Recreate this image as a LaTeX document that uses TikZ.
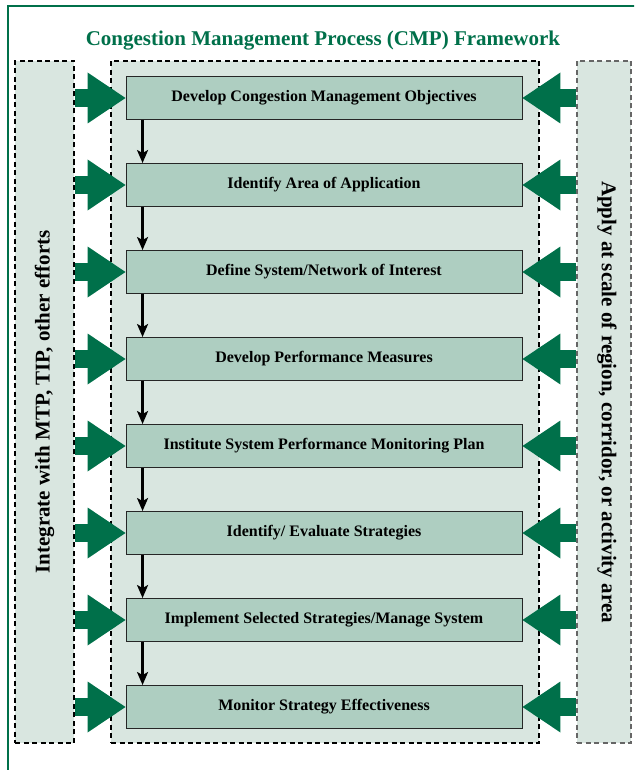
\documentclass[tikz,border=0pt]{standalone}
\usepackage{fontspec}
\setmainfont{Liberation Serif}
\usetikzlibrary{positioning}
\usetikzlibrary{arrows.meta}
\definecolor{cmpGreen}{RGB}{0,112,74}
\definecolor{stripColor}{RGB}{217,230,224}
\definecolor{stepColor}{RGB}{174,206,193}

\begin{document}
\begin{tikzpicture}[x=1pt, y=-1pt]

  \tikzstyle{stepBox} = [draw=black!85, line width=0.9pt, fill=stepColor, minimum width=396pt, minimum height=43pt, inner sep=0pt, font=\fontsize{16}{18}\selectfont\bfseries];
  \tikzstyle{stripBox} = [draw, dash pattern=on 5pt off 3.5pt, line width=1.1pt, fill=stripColor, inner sep=0pt];
  \tikzstyle{sideText} = [font=\fontsize{21}{24}\selectfont\bfseries];
  \tikzstyle{flowEdge} = [line width=2.3pt, -{Stealth[length=13pt, width=11pt, inset=3pt]}];
  \tikzstyle{feedEdge} = [cmpGreen, line width=18pt, -{Triangle[length=38pt, width=51pt, line width=0pt]}];

  \useasboundingbox (0,0) rectangle (634,770);
  \clip (0,0) rectangle (634,770);

  % outer frame, cut by the page on the right and at the bottom
  \draw[cmpGreen, line width=2.4pt] (8,6) rectangle (680,820);

  \node[font=\fontsize{21}{24}\selectfont\bfseries, text=cmpGreen] (title) at (323,41) {Congestion Management Process (CMP) Framework};

  \node[stripBox, minimum width=59pt, minimum height=682pt] (leftStrip) at (44.5,402) {};
  \node[stripBox, minimum width=428pt, minimum height=682pt] (process) at (325,402) {};
  \node[stripBox, draw=black!60, minimum width=54pt, minimum height=682pt] (rightStrip) at (604,402) {};

  \node[sideText, rotate=90] (leftText) at (leftStrip.center) {Integrate with MTP, TIP, other efforts};
  \node[sideText, rotate=-90] (rightText) at ([xshift=3pt]rightStrip.center) {Apply at scale of region, corridor, or activity area};

  \node[stepBox] (s1) at (324,98) {Develop Congestion Management Objectives};
  \node[stepBox] (s2) at (324,185) {Identify Area of Application};
  \node[stepBox] (s3) at (324,272) {Define System/Network of Interest};
  \node[stepBox] (s4) at (324,359) {Develop Performance Measures};
  \node[stepBox] (s5) at (324,446) {Institute System Performance Monitoring Plan};
  \node[stepBox] (s6) at (324,533) {Identify/ Evaluate Strategies};
  \node[stepBox] (s7) at (324,620) {Implement Selected Strategies/Manage System};
  \node[stepBox] (s8) at (324,707) {Monitor Strategy Effectiveness};

  \draw[feedEdge] (s1.west -| leftStrip.east) -- (s1.west);
  \draw[feedEdge] (s2.west -| leftStrip.east) -- (s2.west);
  \draw[feedEdge] (s3.west -| leftStrip.east) -- (s3.west);
  \draw[feedEdge] (s4.west -| leftStrip.east) -- (s4.west);
  \draw[feedEdge] (s5.west -| leftStrip.east) -- (s5.west);
  \draw[feedEdge] (s6.west -| leftStrip.east) -- (s6.west);
  \draw[feedEdge] (s7.west -| leftStrip.east) -- (s7.west);
  \draw[feedEdge] (s8.west -| leftStrip.east) -- (s8.west);

  \draw[feedEdge] (s1.east -| rightStrip.west) -- (s1.east);
  \draw[feedEdge] (s2.east -| rightStrip.west) -- (s2.east);
  \draw[feedEdge] (s3.east -| rightStrip.west) -- (s3.east);
  \draw[feedEdge] (s4.east -| rightStrip.west) -- (s4.east);
  \draw[feedEdge] (s5.east -| rightStrip.west) -- (s5.east);
  \draw[feedEdge] (s6.east -| rightStrip.west) -- (s6.east);
  \draw[feedEdge] (s7.east -| rightStrip.west) -- (s7.east);
  \draw[feedEdge] (s8.east -| rightStrip.west) -- (s8.east);

  \draw[flowEdge] ([xshift=17pt]s1.south west) -- ([xshift=17pt]s2.north west);
  \draw[flowEdge] ([xshift=17pt]s2.south west) -- ([xshift=17pt]s3.north west);
  \draw[flowEdge] ([xshift=17pt]s3.south west) -- ([xshift=17pt]s4.north west);
  \draw[flowEdge] ([xshift=17pt]s4.south west) -- ([xshift=17pt]s5.north west);
  \draw[flowEdge] ([xshift=17pt]s5.south west) -- ([xshift=17pt]s6.north west);
  \draw[flowEdge] ([xshift=17pt]s6.south west) -- ([xshift=17pt]s7.north west);
  \draw[flowEdge] ([xshift=17pt]s7.south west) -- ([xshift=17pt]s8.north west);

\end{tikzpicture}
\end{document}
